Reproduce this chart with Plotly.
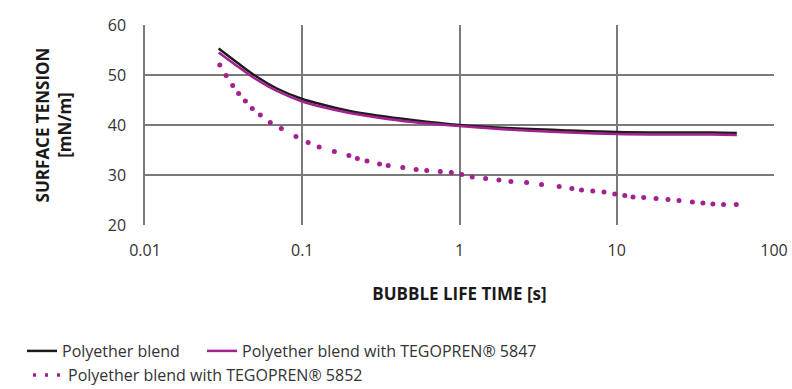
import plotly.graph_objects as go

# Bubble life time [s] and surface tension [mN/m]
t_blend = [0.0294, 0.0385, 0.05, 0.069, 0.1, 0.13, 0.2, 0.3, 0.5, 1, 2, 5, 10, 20, 40, 58]
st_blend = [55.3, 52.5, 49.9, 47.3, 45.2, 44.2, 42.8, 41.9, 41.0, 40.0, 39.4, 38.9, 38.6, 38.5, 38.5, 38.4]

t_5847 = [0.0294, 0.0385, 0.05, 0.069, 0.1, 0.13, 0.2, 0.3, 0.5, 1, 2, 5, 10, 20, 40, 58]
st_5847 = [54.5, 51.8, 49.3, 46.8, 44.7, 43.7, 42.4, 41.5, 40.6, 39.8, 39.1, 38.5, 38.2, 38.1, 38.1, 38.0]

t_5852 = [0.0299, 0.0328, 0.0361, 0.0394, 0.0435, 0.0481, 0.0541, 0.0626, 0.0736, 0.0912,
          0.109, 0.128, 0.160, 0.198, 0.224, 0.258, 0.310, 0.352, 0.436, 0.530, 0.619,
          0.755, 0.887, 1.033, 1.205, 1.466, 1.781, 2.123, 2.671, 3.324, 4.303, 5.18,
          5.97, 7.04, 8.30, 9.71, 11.25, 12.69, 14.84, 17.78, 21.17, 24.88, 30.26, 35.32,
          40.85, 47.76, 57.54]
st_5852 = [52.0, 49.9, 47.9, 46.3, 44.8, 43.3, 42.0, 40.5, 39.3, 37.7,
           36.5, 35.6, 34.7, 33.9, 33.3, 32.8, 32.2, 31.9, 31.5, 31.1, 30.9,
           30.7, 30.5, 30.1, 29.6, 29.3, 29.0, 28.7, 28.5, 28.1, 27.7, 27.3,
           27.0, 26.8, 26.6, 26.2, 25.9, 25.6, 25.5, 25.3, 25.1, 24.9, 24.6, 24.4,
           24.2, 24.1, 24.1]

x_ticks = [0.01, 0.1, 1, 10, 100]
x_tick_labels = ["0.01", "0.1", "1", "10", "100"]
y_ticks = [20, 30, 40, 50, 60]

BLACK = "#1e1a1b"
MAGENTA = "#a3208f"
FONT = "Open Sans, Noto Sans, sans-serif"

fig = go.Figure()
fig.add_trace(go.Scatter(x=t_blend, y=st_blend, mode="lines", name="Polyether blend",
                         line=dict(color=BLACK, width=2.5, shape="spline"), legend="legend"))
fig.add_trace(go.Scatter(x=t_5847, y=st_5847, mode="lines",
                         name="Polyether blend with TEGOPREN® 5847",
                         line=dict(color=MAGENTA, width=2.5, shape="spline"), legend="legend3"))
fig.add_trace(go.Scatter(x=t_5852, y=st_5852, mode="markers", showlegend=False,
                         marker=dict(color=MAGENTA, size=5, line=dict(width=0))))
fig.add_trace(go.Scatter(x=[None], y=[None], mode="lines",
                         name="Polyether blend with TEGOPREN® 5852",
                         line=dict(color=MAGENTA, width=3.5, dash="3px,9px"), legend="legend2"))

leg_common = dict(orientation="h", xref="container", xanchor="left", yref="container",
                  yanchor="top", font=dict(size=16, color="#333333"), itemwidth=30,
                  bgcolor="rgba(0,0,0,0)")

fig.update_layout(
    width=792, height=389,
    margin=dict(l=144.5, r=17.5, t=25, b=164, autoexpand=False),
    paper_bgcolor="white", plot_bgcolor="white",
    font=dict(family=FONT, size=16, color="#333333"),
    legend=dict(x=22 / 792, y=(389 - 334) / 389, **leg_common),
    legend3=dict(x=202 / 792, y=(389 - 334) / 389, **leg_common),
    legend2=dict(x=28 / 792, y=(389 - 358) / 389, **leg_common),
)
fig.update_xaxes(type="log", range=[-2, 2], tickvals=x_ticks, ticktext=x_tick_labels,
                 showgrid=True, gridcolor="#7a7a7a", gridwidth=1.5,
                 showline=False, zeroline=False, ticks="", ticklabelstandoff=14,
                 tickfont=dict(size=16, color="#333333"),
                 title=dict(text="<b>BUBBLE LIFE TIME [s]</b>", font=dict(size=17, color="#1a1a1a"),
                            standoff=28))
fig.update_yaxes(range=[20, 60], tickvals=y_ticks, showgrid=True, gridcolor="#7a7a7a",
                 gridwidth=1.5, showline=True, linecolor="#7a7a7a", linewidth=1.5,
                 zeroline=False, ticks="", ticklabelstandoff=14,
                 tickfont=dict(size=16, color="#333333"),
                 title=dict(text="<b>SURFACE TENSION<br>[mN/m]</b>",
                            font=dict(size=17, color="#1a1a1a"), standoff=32))

fig.write_html("out.html")
